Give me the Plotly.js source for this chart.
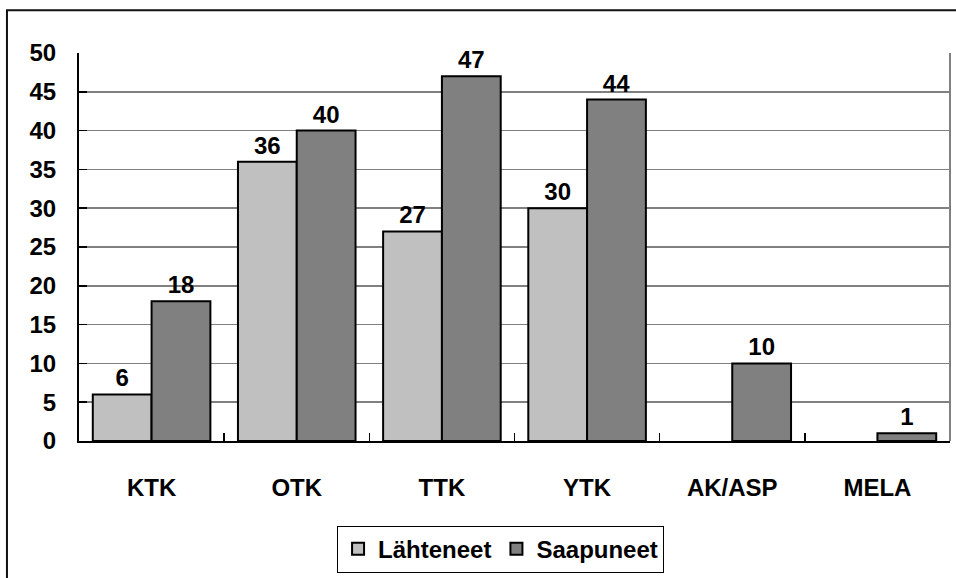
<!DOCTYPE html>
<html>
<head>
<meta charset="utf-8">
<script src="https://cdn.plot.ly/plotly-3.0.1.min.js"></script>
<style>html,body{margin:0;padding:0;background:#fff;}#chart{width:956px;height:578px;}</style>
</head>
<body>
<div id="chart"></div>
<script>
const categories = ["KTK", "OTK", "TTK", "YTK", "AK/ASP", "MELA"];
const lahteneet = [6, 36, 27, 30, null, null];
const saapuneet = [18, 40, 47, 44, 10, 1];
const seriesNames = ["Lähteneet", "Saapuneet"];

const FONT = '"Liberation Sans", Arial, sans-serif';
const textFont = {family: FONT, size: 24, color: '#000', weight: 'bold'};

const traces = [
  {type: 'bar', name: seriesNames[0], x: categories, y: lahteneet,
   marker: {color: '#C0C0C0', line: {color: '#000', width: 2}},
   texttemplate: '%{y}', textposition: 'outside', cliponaxis: false,
   textfont: textFont, hoverinfo: 'x+y'},
  {type: 'bar', name: seriesNames[1], x: categories, y: saapuneet,
   marker: {color: '#808080', line: {color: '#000', width: 2}},
   texttemplate: '%{y}', textposition: 'outside', cliponaxis: false,
   textfont: textFont, hoverinfo: 'x+y'}
];

const layout = {
  width: 956, height: 578,
  margin: {l: 79, r: 6, t: 53, b: 135},
  paper_bgcolor: '#fff', plot_bgcolor: '#fff',
  font: {family: FONT, size: 24, color: '#000', weight: 'bold'},
  barmode: 'group', bargap: 0.19, bargroupgap: 0,
  showlegend: true,
  legend: {orientation: 'h', x: 0.484, xanchor: 'center', y: -0.218, yanchor: 'top',
           bordercolor: '#000', borderwidth: 1, itemwidth: 30,
           font: {family: FONT, size: 24, color: '#000', weight: 'bold'},
           traceorder: 'normal'},
  xaxis: {type: 'category', showline: true, linecolor: '#000', linewidth: 2,
          ticks: 'inside', tickson: 'boundaries', ticklen: 8, tickwidth: 1.5, tickcolor: '#000',
          showgrid: false, ticklabelstandoff: 24,
          tickfont: {family: FONT, size: 24, color: '#000', weight: 'bold'}},
  yaxis: {range: [0, 50], dtick: 5, tick0: 0, showline: true, linecolor: '#000', linewidth: 2,
          ticks: 'inside', ticklen: 8, tickwidth: 1.5, tickcolor: '#000',
          showgrid: true, gridcolor: '#808080', gridwidth: 1.5, zeroline: false,
          ticklabelstandoff: 16,
          tickfont: {family: FONT, size: 24, color: '#000', weight: 'bold'}},
  shapes: [
    {type: 'line', xref: 'paper', yref: 'paper', x0: 1, x1: 1, y0: 0, y1: 1,
     line: {color: '#808080', width: 2}},
    {type: 'rect', xref: 'paper', yref: 'paper', x0: -0.0827, x1: 1.2, y0: 1.1103, y1: -0.6,
     line: {color: '#111', width: 2}, fillcolor: 'rgba(0,0,0,0)', layer: 'below'}
  ]
};

Plotly.newPlot('chart', traces, layout, {displayModeBar: false, staticPlot: true});
</script>
</body>
</html>
